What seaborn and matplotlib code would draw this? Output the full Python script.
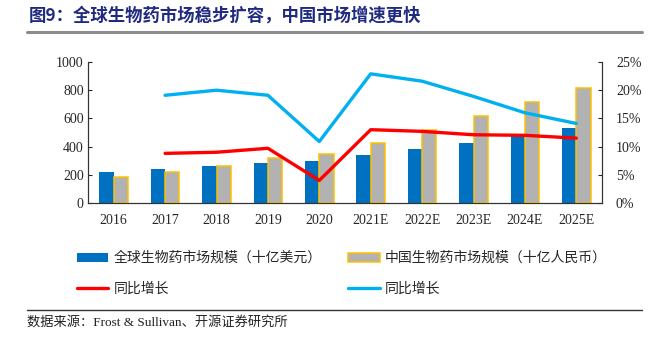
import numpy as np
import pandas as pd
import matplotlib
matplotlib.use("Agg")
import matplotlib.pyplot as plt
import seaborn as sns
from matplotlib.lines import Line2D
from matplotlib.patches import Patch
from matplotlib.ticker import FuncFormatter

# ---------------- data ----------------
years = ["2016", "2017", "2018", "2019", "2020", "2021E", "2022E", "2023E", "2024E", "2025E"]
global_market = [220, 240, 262, 286, 298, 338, 380, 425, 480, 530]      # 十亿美元
china_market = [186, 219, 262, 317, 348, 425, 517, 615, 715, 814]       # 十亿人民币
growth_years = ["2017", "2018", "2019", "2020", "2021E", "2022E", "2023E", "2024E", "2025E"]
global_growth = [0.088, 0.090, 0.097, 0.040, 0.130, 0.127, 0.121, 0.120, 0.115]
china_growth = [0.191, 0.200, 0.191, 0.109, 0.229, 0.216, 0.189, 0.160, 0.141]

label_global = "全球生物药市场规模（十亿美元）"
label_china = "中国生物药市场规模（十亿人民币）"
label_growth = "同比增长"
title = "图9：全球生物药市场稳步扩容，中国市场增速更快"
source = "数据来源：Frost & Sullivan、开源证券研究所"

# ---------------- style ----------------
sns.set_style("white")
SERIF = ["Liberation Serif", "Noto Sans CJK SC"]
CJK = ["Noto Sans CJK SC", "Liberation Serif"]
plt.rcParams["font.family"] = SERIF
plt.rcParams["axes.unicode_minus"] = False

C_GLOBAL = "#0070C0"
C_CHINA = "#B2B2B2"
C_EDGE = "#FFC000"
C_RED = "#FF0000"
C_BLUE = "#00B0F0"

W, H = 654, 341
fig = plt.figure(figsize=(W / 100, H / 100), dpi=100)
fig.patch.set_facecolor("white")

ax_l, ax_r, ax_b, ax_t = 88, 602, 203, 62
ax = fig.add_axes([ax_l / W, 1 - ax_b / H, (ax_r - ax_l) / W, (ax_b - ax_t) / H])

bars = pd.DataFrame({
    "year": years * 2,
    "value": global_market + china_market,
    "series": [label_global] * len(years) + [label_china] * len(years),
})
sns.barplot(data=bars, x="year", y="value", hue="series", order=years,
            hue_order=[label_global, label_china],
            palette=[C_GLOBAL, C_CHINA], width=0.56, ax=ax, legend=False,
            saturation=1, linewidth=0)
for p in ax.containers[1]:
    p.set_edgecolor(C_EDGE)
    p.set_linewidth(1.1)

ax.set_ylim(0, 1000)
ax.set_yticks(np.arange(0, 1001, 200))
ax.set_xlim(-0.5, len(years) - 0.5)
ax.set_xlabel("")
ax.set_ylabel("")
ax.set_xticks(np.arange(-0.5, len(years), 1), minor=True)
ax.tick_params(axis="x", which="major", length=0, pad=8, labelsize=10)
ax.tick_params(axis="x", which="minor", length=3, direction="out", width=0.8, color="#333333")
ax.tick_params(axis="y", length=3, direction="in", pad=3, labelsize=10, width=0.8)

for s in ["top"]:
    ax.spines[s].set_visible(False)
for s in ["left", "bottom", "right"]:
    ax.spines[s].set_color("#333333")
    ax.spines[s].set_linewidth(0.8)

# ---------------- lines on secondary axis ----------------
ax2 = ax.twinx()
pos = [years.index(y) for y in growth_years]
lines = pd.DataFrame({"x": pos, "g": global_growth, "c": china_growth})
sns.lineplot(data=lines, x="x", y="g", color=C_RED, lw=2.4, ax=ax2)
sns.lineplot(data=lines, x="x", y="c", color=C_BLUE, lw=2.4, ax=ax2)
ax2.set_ylim(0, 0.25)
ax2.set_yticks(np.arange(0, 0.251, 0.05))
ax2.yaxis.set_major_formatter(FuncFormatter(lambda v, _: f"{round(v * 100)}%"))
ax2.set_xlabel("")
ax2.set_ylabel("")
ax2.tick_params(axis="y", length=3, direction="in", pad=10, labelsize=10, width=0.8)
ax2.spines["top"].set_visible(False)
for s in ["left", "bottom", "right"]:
    ax2.spines[s].set_color("#333333")
    ax2.spines[s].set_linewidth(0.8)
ax2.grid(False)
ax.grid(False)

# ---------------- legend ----------------
handles = [
    Patch(facecolor=C_GLOBAL, edgecolor=C_GLOBAL, linewidth=0),
    Line2D([], [], color=C_RED, lw=2.4),
    Patch(facecolor=C_CHINA, edgecolor=C_EDGE, linewidth=1.1),
    Line2D([], [], color=C_BLUE, lw=2.4),
]
labels = [label_global, label_growth, label_china, label_growth]
leg = fig.legend(handles, labels, ncol=2, loc="upper left",
                 bbox_to_anchor=(77 / W, 1 - 251 / H), frameon=False,
                 prop={"family": CJK, "size": 10}, handlelength=2.25,
                 handleheight=0.6, handletextpad=0.4, columnspacing=1.9,
                 labelspacing=1.2, borderpad=0, borderaxespad=0)

# ---------------- title, rules, source ----------------
fig.text(29 / W, 1 - 16 / H, title, ha="left", va="center", fontsize=12.5,
         fontweight="bold", color="#1F2A80", family=CJK)
fig.add_artist(Line2D([27 / W, 642 / W], [1 - 32 / H, 1 - 32 / H],
                      color="#8C8C8C", lw=2.2, transform=fig.transFigure))
fig.add_artist(Line2D([27 / W, 642 / W], [1 - 309.5 / H, 1 - 309.5 / H],
                      color="#333333", lw=1.0, transform=fig.transFigure))
fig.text(27 / W, 1 - 322 / H, source, ha="left", va="center", fontsize=9.5,
         color="#222222", family=SERIF)

fig.savefig("out.png", dpi=100, facecolor="white")
